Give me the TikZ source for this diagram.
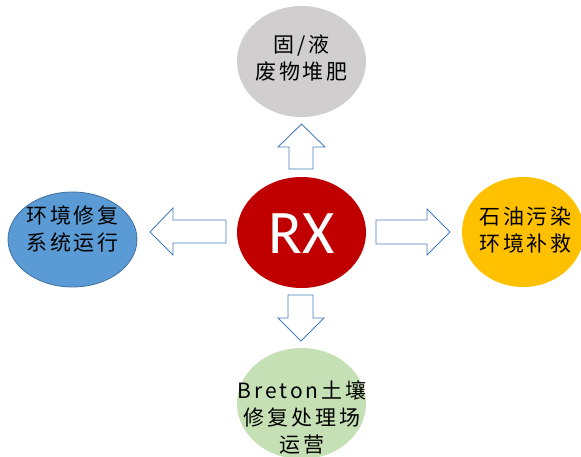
\documentclass[tikz,border=0pt]{standalone}
\usepackage{fontspec}
\setmainfont{Carlito}
\newfontfamily\cjk[LetterSpace=14]{Noto Sans CJK SC}
\usetikzlibrary{shapes.geometric}
\definecolor{rxred}{HTML}{C00000}
\definecolor{topgray}{HTML}{D0CECE}
\definecolor{leftblue}{HTML}{5B9BD5}
\definecolor{blueline}{HTML}{41719C}
\definecolor{rightgold}{HTML}{FFC000}
\definecolor{botgreen}{HTML}{C5E0B4}
\definecolor{arrowline}{HTML}{4A7EBB}
\tikzset{
  ell/.style={ellipse, draw=none, inner sep=0pt, minimum width=129pt, minimum height=111pt},
  lbl/.style={align=center, text=black, font=\cjk\fontsize{21}{27}\selectfont, inner sep=0pt},
  blockarrow/.style={draw=arrowline, fill=white, line width=0.9pt, line join=miter}
}
\begin{document}
\begin{tikzpicture}[x=1pt,y=-1pt]
\useasboundingbox (0,0) rectangle (581,457);
\clip (0,0) rectangle (581,457);
% ellipses
\node[ell, fill=rxred] (rx) at (301.5,232.5) {};
\node[text=white, inner sep=0pt, font=\fontsize{62}{62}\selectfont] (rxt) at (301.5,233.5) {RX};
\node[ell, fill=topgray] (top) at (301.5,61.5) {};
\node[ell, fill=leftblue, draw=blueline, line width=0.8pt, minimum height=95pt] (left) at (72.5,239.5) {};
\node[ell, fill=rightgold, minimum width=122pt, minimum height=110pt] (right) at (523,232) {};
\node[ell, fill=botgreen] (bot) at (301.5,403.5) {};
% labels
\node[lbl] (toptxt) at (301.5,58.5) {固/液\\废物堆肥};
\node[lbl] (lefttxt) at (72.5,228.5) {环境修复\\系统运行};
\node[lbl] (righttxt) at (525.5,230) {石油污染\\环境补救};
\node[lbl] (bottxt) at (302,417.5) {Breton土壤\\修复处理场\\运营};
% block arrows
\draw[blockarrow] (289,169) -- (289,147) -- (278,147) -- (301.5,124) -- (325,147) -- (313,147) -- (313,169) -- cycle;
\draw[blockarrow] (288,295) -- (288,318) -- (278,318) -- (301,341) -- (324,318) -- (313,318) -- (313,295) -- cycle;
\draw[blockarrow] (226,220) -- (173,220) -- (173,208) -- (150,232) -- (173,255) -- (173,243) -- (226,243) -- cycle;
\draw[blockarrow] (376,220) -- (427,220) -- (427,209) -- (450,232) -- (427,255) -- (427,244) -- (376,244) -- cycle;
\end{tikzpicture}
\end{document}
